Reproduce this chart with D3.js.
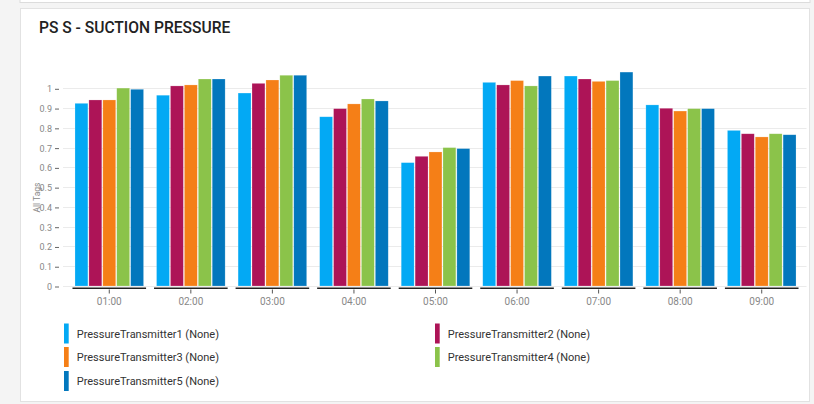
<!DOCTYPE html>
<html><head><meta charset="utf-8">
<script src="https://cdn.jsdelivr.net/npm/d3@7"></script>
<style>
html,body{margin:0;padding:0;background:#f4f4f4;width:814px;height:404px;overflow:hidden;font-family:Roboto,"Noto Sans",sans-serif;}
</style></head><body>
<svg id="chart" width="814" height="404"></svg>
<script>
const categories = ["01:00","02:00","03:00","04:00","05:00","06:00","07:00","08:00","09:00"];
const seriesNames = ["PressureTransmitter1 (None)","PressureTransmitter2 (None)","PressureTransmitter3 (None)","PressureTransmitter4 (None)","PressureTransmitter5 (None)"];
const seriesColors = ["#03A9F4","#AD1457","#F57F17","#8BC34A","#0277BD"];
const pt1 = [0.924,0.965,0.976,0.856,0.624,1.030,1.062,0.916,0.787];
const pt2 = [0.941,1.012,1.025,0.897,0.656,1.017,1.047,0.899,0.770];
const pt3 = [0.941,1.017,1.042,0.921,0.678,1.039,1.035,0.885,0.754];
const pt4 = [1.001,1.047,1.066,0.946,0.700,1.012,1.039,0.897,0.770];
const pt5 = [0.995,1.047,1.066,0.936,0.695,1.062,1.082,0.897,0.765];
const yTicks = [0,0.1,0.2,0.3,0.4,0.5,0.6,0.7,0.8,0.9,1];
const yLabel = "All Tags";
const title = "PS S - SUCTION PRESSURE";

const series = [pt1,pt2,pt3,pt4,pt5];
const svg = d3.select("#chart");

// cards
svg.append("rect").attr("x",20).attr("y",-4).attr("width",790).attr("height",6.5).attr("fill","#fff").attr("stroke","#dcdcdc");
svg.append("rect").attr("x",20.5).attr("y",8.5).attr("width",789).attr("height",393).attr("fill","#fff").attr("stroke","#e2e2e2");

svg.append("text").attr("x",39).attr("y",33).attr("font-size",15.6).attr("font-weight",500)
  .attr("fill","#222").text(title);

const x = d3.scaleBand().domain(categories).range([68.5,802.5]).paddingInner(0).paddingOuter(0);
const y = d3.scaleLinear().domain([0,1]).range([286,88.3]);
const xs = d3.scaleBand().domain(d3.range(5)).range([0,x.bandwidth()]).paddingOuter(0.43).paddingInner(0.0);

// gridlines
svg.append("g").selectAll("line").data(yTicks).join("line")
  .attr("x1",63).attr("x2",806.5).attr("y1",d=>Math.round(y(d))+0.5).attr("y2",d=>Math.round(y(d))+0.5)
  .attr("stroke","#ebebeb").attr("stroke-width",1);

// y axis
const yAxis = d3.axisLeft(y).tickValues(yTicks).tickFormat(d3.format("~g")).tickSize(4).tickPadding(3);
const gy = svg.append("g").attr("transform","translate(59,0.5)").call(yAxis);
gy.select(".domain").remove();
gy.selectAll(".tick line").attr("stroke","#666");
gy.selectAll(".tick text").attr("fill","#888").attr("font-size",9).attr("font-family","Roboto");

svg.append("text").attr("transform","translate(39.5,197.5) rotate(-90)").attr("text-anchor","middle")
  .attr("font-size",8.5).attr("fill","#888").text(yLabel);

// bars
const groups = svg.append("g").selectAll("g").data(categories).join("g")
  .attr("transform",d=>`translate(${x(d)},0)`);
groups.selectAll("rect").data((d,i)=>series.map((s,k)=>({k,v:s[i]}))).join("rect")
  .attr("x",d=>xs(d.k)+0.5).attr("width",xs.bandwidth()-1)
  .attr("y",d=>y(d.v)).attr("height",d=>y(0)-y(d.v))
  .attr("fill",d=>seriesColors[d.k]).attr("stroke","#ffffff").attr("stroke-opacity",0.35).attr("stroke-width",0.6);

// x axis
const xAxis = d3.axisBottom(x).tickSize(4).tickPadding(4);
const gx = svg.append("g").attr("transform","translate(0,289.5)").call(xAxis);
gx.select(".domain").remove();
gx.selectAll(".tick line").attr("stroke","#555");
gx.selectAll(".tick text").attr("fill","#888").attr("font-size",10).attr("font-family","Roboto");
svg.append("g").selectAll("line").data(categories).join("line")
  .attr("x1",d=>x(d)+x.bandwidth()/2-36.8).attr("x2",d=>x(d)+x.bandwidth()/2+36.8)
  .attr("y1",288.3).attr("y2",288.3).attr("stroke","#222").attr("stroke-width",1.6);

// legend
const legPos = [[64,333.5],[435,333.5],[64,357],[435,357],[64,381]];
const lg = svg.append("g").selectAll("g").data(seriesNames).join("g")
  .attr("transform",(d,i)=>`translate(${legPos[i][0]},${legPos[i][1]})`);
lg.append("rect").attr("x",0).attr("y",-10).attr("width",4.7).attr("height",20).attr("fill",(d,i)=>seriesColors[i]);
lg.append("text").attr("x",12.7).attr("y",4).attr("font-size",11).attr("fill","#333").text(d=>d);
</script>
</body></html>
